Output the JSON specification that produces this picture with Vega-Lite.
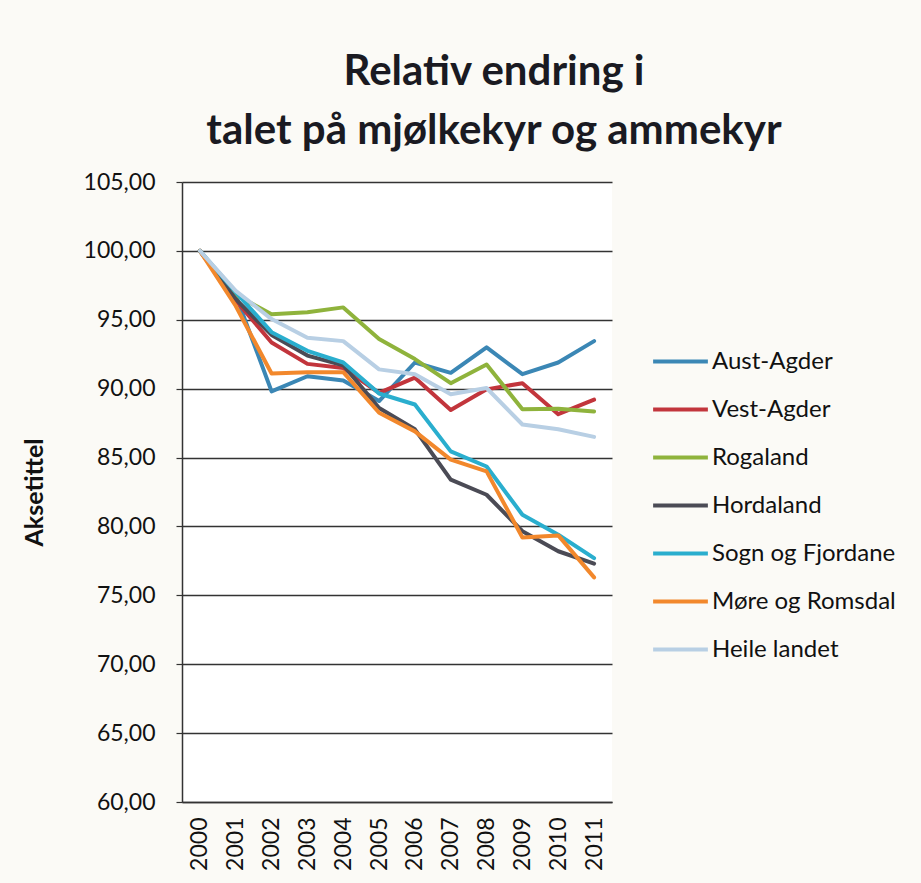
{
  "$schema": "https://vega.github.io/schema/vega-lite/v6.json",
  "autosize": {"type": "none"},
  "width": 430,
  "height": 620,
  "padding": {"left": 182, "top": 182, "right": 309, "bottom": 81},
  "background": "#fbfaf6",
  "title": {
    "text": ["Relativ endring i", "talet på mjølkekyr og ammekyr"],
    "font": "Lato",
    "fontSize": 42,
    "fontWeight": "bold",
    "color": "#1a1a22",
    "anchor": "middle",
    "dx": 97,
    "lineHeight": 59,
    "offset": 18
  },
  "data": {
    "values": [
      {"year": "2000", "region": "Aust-Agder", "value": 100},
      {"year": "2001", "region": "Aust-Agder", "value": 96.8},
      {"year": "2002", "region": "Aust-Agder", "value": 89.8},
      {"year": "2003", "region": "Aust-Agder", "value": 90.9},
      {"year": "2004", "region": "Aust-Agder", "value": 90.6},
      {"year": "2005", "region": "Aust-Agder", "value": 89.1},
      {"year": "2006", "region": "Aust-Agder", "value": 91.9},
      {"year": "2007", "region": "Aust-Agder", "value": 91.15},
      {"year": "2008", "region": "Aust-Agder", "value": 93.0},
      {"year": "2009", "region": "Aust-Agder", "value": 91.05},
      {"year": "2010", "region": "Aust-Agder", "value": 91.9},
      {"year": "2011", "region": "Aust-Agder", "value": 93.45},

      {"year": "2000", "region": "Vest-Agder", "value": 100},
      {"year": "2001", "region": "Vest-Agder", "value": 96.4},
      {"year": "2002", "region": "Vest-Agder", "value": 93.35},
      {"year": "2003", "region": "Vest-Agder", "value": 91.8},
      {"year": "2004", "region": "Vest-Agder", "value": 91.5},
      {"year": "2005", "region": "Vest-Agder", "value": 89.7},
      {"year": "2006", "region": "Vest-Agder", "value": 90.8},
      {"year": "2007", "region": "Vest-Agder", "value": 88.45},
      {"year": "2008", "region": "Vest-Agder", "value": 89.95},
      {"year": "2009", "region": "Vest-Agder", "value": 90.4},
      {"year": "2010", "region": "Vest-Agder", "value": 88.15},
      {"year": "2011", "region": "Vest-Agder", "value": 89.2},

      {"year": "2000", "region": "Rogaland", "value": 100},
      {"year": "2001", "region": "Rogaland", "value": 96.8},
      {"year": "2002", "region": "Rogaland", "value": 95.4},
      {"year": "2003", "region": "Rogaland", "value": 95.55},
      {"year": "2004", "region": "Rogaland", "value": 95.9},
      {"year": "2005", "region": "Rogaland", "value": 93.6},
      {"year": "2006", "region": "Rogaland", "value": 92.15},
      {"year": "2007", "region": "Rogaland", "value": 90.4},
      {"year": "2008", "region": "Rogaland", "value": 91.75},
      {"year": "2009", "region": "Rogaland", "value": 88.5},
      {"year": "2010", "region": "Rogaland", "value": 88.55},
      {"year": "2011", "region": "Rogaland", "value": 88.35},

      {"year": "2000", "region": "Hordaland", "value": 100},
      {"year": "2001", "region": "Hordaland", "value": 96.5},
      {"year": "2002", "region": "Hordaland", "value": 93.9},
      {"year": "2003", "region": "Hordaland", "value": 92.4},
      {"year": "2004", "region": "Hordaland", "value": 91.7},
      {"year": "2005", "region": "Hordaland", "value": 88.6},
      {"year": "2006", "region": "Hordaland", "value": 87.05},
      {"year": "2007", "region": "Hordaland", "value": 83.4},
      {"year": "2008", "region": "Hordaland", "value": 82.3},
      {"year": "2009", "region": "Hordaland", "value": 79.65},
      {"year": "2010", "region": "Hordaland", "value": 78.2},
      {"year": "2011", "region": "Hordaland", "value": 77.3},

      {"year": "2000", "region": "Sogn og Fjordane", "value": 100},
      {"year": "2001", "region": "Sogn og Fjordane", "value": 97.0},
      {"year": "2002", "region": "Sogn og Fjordane", "value": 94.1},
      {"year": "2003", "region": "Sogn og Fjordane", "value": 92.75},
      {"year": "2004", "region": "Sogn og Fjordane", "value": 91.9},
      {"year": "2005", "region": "Sogn og Fjordane", "value": 89.65},
      {"year": "2006", "region": "Sogn og Fjordane", "value": 88.85},
      {"year": "2007", "region": "Sogn og Fjordane", "value": 85.45},
      {"year": "2008", "region": "Sogn og Fjordane", "value": 84.35},
      {"year": "2009", "region": "Sogn og Fjordane", "value": 80.85},
      {"year": "2010", "region": "Sogn og Fjordane", "value": 79.4},
      {"year": "2011", "region": "Sogn og Fjordane", "value": 77.7},

      {"year": "2000", "region": "Møre og Romsdal", "value": 100},
      {"year": "2001", "region": "Møre og Romsdal", "value": 96.0},
      {"year": "2002", "region": "Møre og Romsdal", "value": 91.1},
      {"year": "2003", "region": "Møre og Romsdal", "value": 91.2},
      {"year": "2004", "region": "Møre og Romsdal", "value": 91.2},
      {"year": "2005", "region": "Møre og Romsdal", "value": 88.25},
      {"year": "2006", "region": "Møre og Romsdal", "value": 86.9},
      {"year": "2007", "region": "Møre og Romsdal", "value": 84.85},
      {"year": "2008", "region": "Møre og Romsdal", "value": 84.0},
      {"year": "2009", "region": "Møre og Romsdal", "value": 79.2},
      {"year": "2010", "region": "Møre og Romsdal", "value": 79.35},
      {"year": "2011", "region": "Møre og Romsdal", "value": 76.3},

      {"year": "2000", "region": "Heile landet", "value": 100},
      {"year": "2001", "region": "Heile landet", "value": 97.1},
      {"year": "2002", "region": "Heile landet", "value": 95.05},
      {"year": "2003", "region": "Heile landet", "value": 93.7},
      {"year": "2004", "region": "Heile landet", "value": 93.45},
      {"year": "2005", "region": "Heile landet", "value": 91.4},
      {"year": "2006", "region": "Heile landet", "value": 91.05},
      {"year": "2007", "region": "Heile landet", "value": 89.6},
      {"year": "2008", "region": "Heile landet", "value": 90.05},
      {"year": "2009", "region": "Heile landet", "value": 87.4},
      {"year": "2010", "region": "Heile landet", "value": 87.05},
      {"year": "2011", "region": "Heile landet", "value": 86.5}
    ]
  },
  "mark": {"type": "line", "strokeWidth": 4, "strokeCap": "round", "strokeJoin": "round"},
  "encoding": {
    "x": {
      "field": "year",
      "type": "ordinal",
      "scale": {"type": "point", "padding": 0.5},
      "axis": {
        "title": null,
        "labelAngle": -90,
        "labelAlign": "right",
        "labelBaseline": "middle",
        "labelFont": "Lato",
        "labelFontSize": 23,
        "labelColor": "#111111",
        "labelPadding": 15,
        "ticks": false,
        "domainColor": "#333333",
        "domainWidth": 1.5,
        "grid": false
      }
    },
    "y": {
      "field": "value",
      "type": "quantitative",
      "scale": {"domain": [60, 105], "nice": false, "zero": false},
      "axis": {
        "title": "Aksetittel",
        "titleFont": "Lato",
        "titleFontSize": 25,
        "titleFontWeight": "bold",
        "titleColor": "#111111",
        "titlePadding": 36,
        "values": [60, 65, 70, 75, 80, 85, 90, 95, 100, 105],
        "labelExpr": "replace(format(datum.value, '.2f'), '.', ',')",
        "labelFont": "Lato",
        "labelFontSize": 23,
        "labelColor": "#111111",
        "labelPadding": 21,
        "tickSize": 6,
        "tickColor": "#333333",
        "tickWidth": 1.2,
        "domainColor": "#333333",
        "domainWidth": 1.5,
        "grid": true,
        "gridColor": "#333333",
        "gridWidth": 1.3
      }
    },
    "color": {
      "field": "region",
      "type": "nominal",
      "sort": ["Aust-Agder", "Vest-Agder", "Rogaland", "Hordaland", "Sogn og Fjordane", "Møre og Romsdal", "Heile landet"],
      "scale": {
        "domain": ["Aust-Agder", "Vest-Agder", "Rogaland", "Hordaland", "Sogn og Fjordane", "Møre og Romsdal", "Heile landet"],
        "range": ["#3b87b5", "#c2353c", "#8fb33c", "#4b4b55", "#2aaece", "#f2882c", "#b8cfe4"]
      },
      "legend": {
        "title": null,
        "orient": "none",
        "legendX": 469,
        "legendY": 150,
        "symbolType": "stroke",
        "symbolSize": 3000,
        "symbolStrokeWidth": 4,
        "labelFont": "Lato",
        "labelFontSize": 24,
        "labelColor": "#111111",
        "labelOffset": 2,
        "labelLimit": 300,
        "rowPadding": 6
      }
    }
  },
  "config": {
    "view": {"stroke": null, "fill": "#ffffff"}
  }
}
